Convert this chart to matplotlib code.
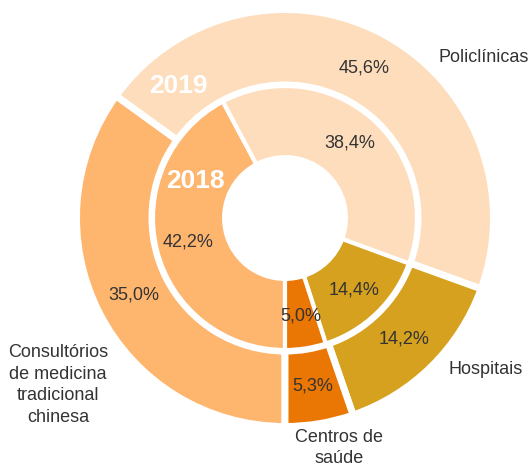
import matplotlib
matplotlib.use("Agg")
import matplotlib.pyplot as plt
import numpy as np

categories = ["Consultórios de medicina tradicional chinesa", "Policlínicas", "Hospitais", "Centros de saúde"]
values_2019 = [35.0, 45.6, 14.2, 5.3]
values_2018 = [42.2, 38.4, 14.4, 5.0]
colors = ["#FEB56E", "#FEDDBC", "#D5A11E", "#EA7603"]
year_labels = ["2019", "2018"]

FONT = ["Liberation Sans Narrow", "Liberation Sans", "DejaVu Sans"]
TXT = "#333333"

W, H = 529, 466
CX, CY, R = 285, 218, 205

fig = plt.figure(figsize=(W / 100, H / 100), dpi=100)
ax = fig.add_axes([0, 0, 1, 1])


def px(x, y):
    return (x - CX) / R, (CY - y) / R


def fmt(v):
    return f"{v:.1f}".replace(".", ",") + "%"


# outer ring: 2019
w_out, _ = ax.pie(values_2019, radius=1.017, colors=colors, startangle=270,
                  counterclock=False,
                  wedgeprops=dict(width=0.368, edgecolor="white", linewidth=5))
# inner ring: 2018
w_in, _ = ax.pie(values_2018, radius=0.644, colors=colors, startangle=270,
                 counterclock=False,
                 wedgeprops=dict(width=0.347, edgecolor="white", linewidth=3))


def label_ring(wedges, vals, dist):
    for w, v in zip(wedges, vals):
        ang = np.deg2rad((w.theta1 + w.theta2) / 2)
        ax.text(dist * np.cos(ang), dist * np.sin(ang), fmt(v), ha="center",
                va="center", fontsize=13, color=TXT, family=FONT)


label_ring(w_out, values_2019, 0.83)
label_ring(w_in, values_2018, 0.485)

# year labels
x, y = px(178, 86)
ax.text(x, y, year_labels[0], ha="center", va="center", fontsize=19,
        fontweight="bold", color="white", family=FONT)
x, y = px(195, 181)
ax.text(x, y, year_labels[1], ha="center", va="center", fontsize=19,
        fontweight="bold", color="white", family=FONT)

# category labels
cat_text = ["Consultórios\nde medicina\ntradicional\nchinesa", "Policlínicas",
            "Hospitais", "Centros de\nsaúde"]
cat_pos = [(58, 385), (484, 57), (486, 370), (339, 448)]
for t, (a, b) in zip(cat_text, cat_pos):
    x, y = px(a, b)
    ax.text(x, y, t, ha="center", va="center", fontsize=13, color=TXT,
            family=FONT, linespacing=1.35)

ax.set_aspect("auto")
ax.set_xlim(-CX / R, (W - CX) / R)
ax.set_ylim(-(H - CY) / R, CY / R)
ax.axis("off")

fig.savefig("out.png", dpi=100)
